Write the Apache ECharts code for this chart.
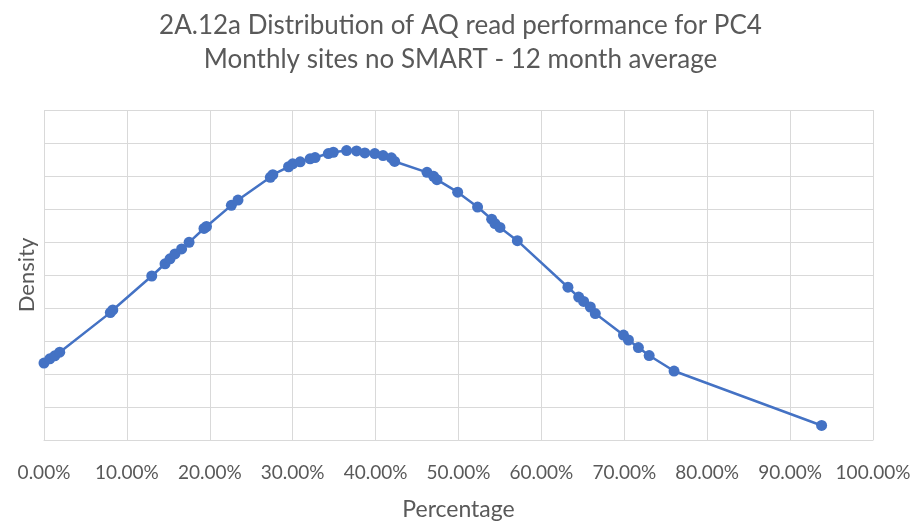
<!DOCTYPE html>
<html>
<head>
<meta charset="utf-8">
<script src="https://cdn.jsdelivr.net/npm/echarts@6/dist/echarts.min.js"></script>
<style>
  html, body { margin: 0; padding: 0; background: #fff; }
  #chart { width: 921px; height: 526px; }
</style>
</head>
<body>
<div id="chart"></div>
<script>
// read performance (fraction) and density (arbitrary units, 1 = one gridline)
const percentage = [
  0.000, 0.007, 0.013, 0.019, 0.080, 0.083,
  0.130, 0.146, 0.152, 0.158, 0.166, 0.175, 0.193, 0.196, 0.226, 0.234,
  0.273, 0.276, 0.295, 0.300, 0.309, 0.321, 0.327, 0.343, 0.349, 0.365,
  0.377, 0.387, 0.399, 0.409, 0.419, 0.423,
  0.462, 0.470, 0.474, 0.499, 0.523, 0.540, 0.544, 0.550, 0.571,
  0.632, 0.645, 0.651, 0.659, 0.665, 0.699, 0.705, 0.717, 0.730, 0.760, 0.938
];
const density = [
  2.33, 2.46, 2.55, 2.66, 3.86, 3.94,
  4.97, 5.34, 5.49, 5.64, 5.79, 5.99, 6.41, 6.47, 7.11, 7.27,
  7.96, 8.04, 8.28, 8.37, 8.43, 8.52, 8.56, 8.68, 8.72, 8.77,
  8.76, 8.70, 8.68, 8.62, 8.55, 8.44,
  8.11, 7.99, 7.89, 7.51, 7.06, 6.69, 6.56, 6.44, 6.04,
  4.63, 4.33, 4.20, 4.03, 3.83, 3.18, 3.03, 2.80, 2.56, 2.09, 0.44
];
const titleLines = [
  '2A.12a Distribution of AQ read performance for PC4',
  'Monthly sites no SMART - 12 month average'
];

const points = percentage.map((p, i) => [p, density[i]]);
const font = 'Lato, "Open Sans", sans-serif';

const option = {
  backgroundColor: '#fff',
  animation: false,
  title: {
    text: titleLines.join('\n'),
    left: 'center',
    top: 4,
    textStyle: {
      fontFamily: font,
      fontWeight: 'normal',
      fontSize: 26,
      lineHeight: 34,
      color: '#595959'
    }
  },
  grid: { left: 44, right: 48, top: 110, bottom: 84 },
  xAxis: {
    type: 'value',
    min: 0,
    max: 1,
    interval: 0.1,
    name: 'Percentage',
    nameLocation: 'middle',
    nameGap: 58,
    nameTextStyle: { fontFamily: font, fontSize: 23, color: '#595959' },
    axisLine: { show: true, lineStyle: { color: '#d9d9d9', width: 1 } },
    axisTick: { show: false },
    axisLabel: {
      fontFamily: font,
      fontSize: 19,
      color: '#595959',
      margin: 23,
      formatter: v => (v * 100).toFixed(2) + '%'
    },
    splitLine: { show: true, lineStyle: { color: '#d9d9d9', width: 1 } }
  },
  yAxis: {
    type: 'value',
    min: 0,
    max: 10,
    interval: 1,
    name: 'Density',
    nameLocation: 'middle',
    nameGap: 6,
    nameTextStyle: { fontFamily: font, fontSize: 22, color: '#595959' },
    axisLine: { show: false },
    axisTick: { show: false },
    axisLabel: { show: false },
    splitLine: { show: true, lineStyle: { color: '#d9d9d9', width: 1 } }
  },
  series: [{
    type: 'line',
    data: points,
    symbol: 'circle',
    symbolSize: 11,
    showAllSymbol: true,
    lineStyle: { color: '#4472c4', width: 2.5 },
    itemStyle: { color: '#4472c4' }
  }]
};

echarts.init(document.getElementById('chart')).setOption(option);
</script>
</body>
</html>
